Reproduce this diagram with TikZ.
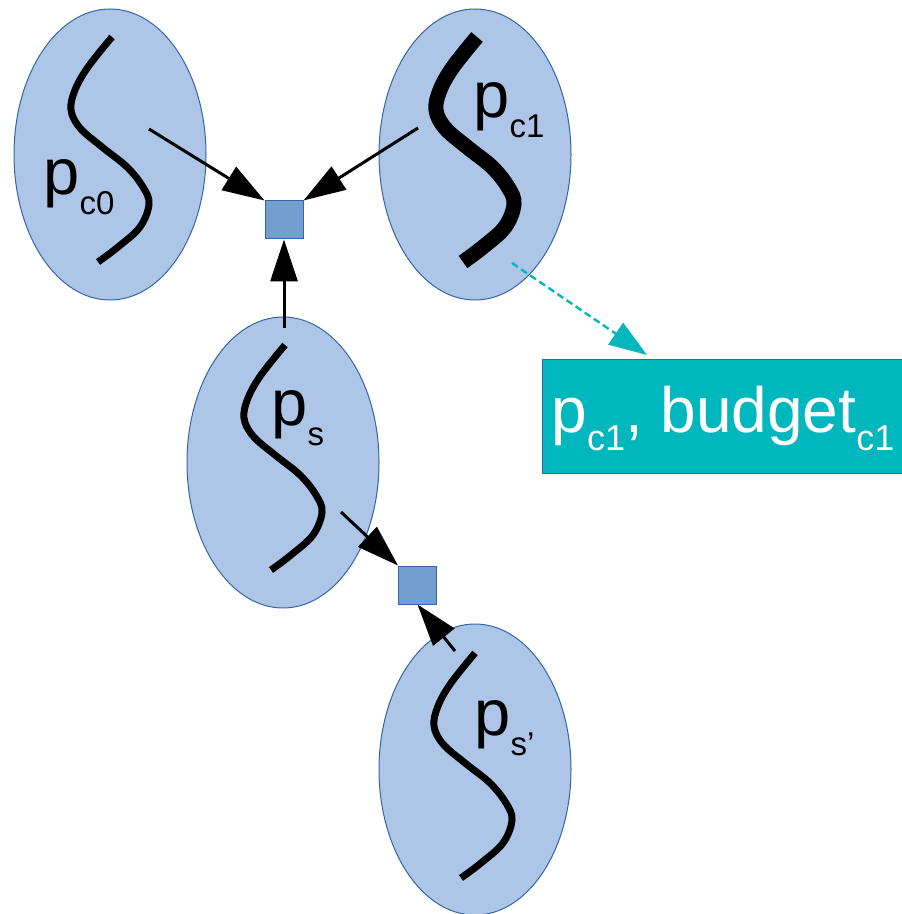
\documentclass[tikz,border=0pt]{standalone}
\usepackage{fontspec}
\setmainfont{Liberation Sans}
\usetikzlibrary{shapes.geometric,arrows.meta}
\definecolor{ellfill}{RGB}{173,197,230}
\definecolor{ellline}{RGB}{52,101,164}
\definecolor{sqfill}{RGB}{114,159,207}
\definecolor{tealbox}{RGB}{0,183,189}
\tikzset{
 blob/.style={ellipse, draw=ellline, line width=0.5pt, fill=ellfill, minimum width=96pt, minimum height=145.5pt, inner sep=0pt},
 factor/.style={rectangle, draw=ellline, line width=0.5pt, fill=sqfill, minimum size=19pt, inner sep=0pt},
 arr/.style={line width=1.5pt, -{Triangle[length=21pt,width=13.5pt]}},
 dasharr/.style={line width=1.2pt, tealbox, dash pattern=on 3.5pt off 2pt, -{Triangle[length=19pt,width=13pt]}},
 lbl/.style={anchor=base west, inner sep=0pt, font=\fontsize{32.5}{33}\selectfont},
 tealrect/.style={rectangle, draw=ellline, line width=0.5pt, fill=tealbox, minimum width=180pt, minimum height=57pt, inner sep=0pt},
 curvethin/.style={line width=3.5pt},
 curvethick/.style={line width=7.5pt},
}
\newcommand{\mysub}[1]{\raisebox{-10pt}{\fontsize{16.5}{16.5}\selectfont #1}}
\newcommand{\myboxsub}[1]{\raisebox{-9pt}{\fontsize{18}{18}\selectfont #1}}
\newcommand{\sshape}[2]{\draw[#1, shift={#2}] plot[smooth, tension=0.6] coordinates {(0,0) (-24,30) (-37,53) (-41,73) (-32,91) (-10,110) (15,130) (31,150) (37,167) (28,190) (6,210) (-14,225)};}
\begin{document}
\begin{tikzpicture}[x=0.5pt, y=-0.5pt]
\useasboundingbox (0,0) rectangle (901,914);
% ellipses
\node[blob] (c0) at (110,154.5) {};
\node[blob] (c1) at (475,154.5) {};
\node[blob] (s) at (283,462.5) {};
\node[blob] (sp) at (475,769.5) {};
% S curves
\sshape{curvethin}{(112,37)}
\sshape{curvethick}{(477,37)}
\sshape{curvethin}{(285,345)}
\sshape{curvethin}{(475,653)}
% labels
\node[lbl] (lc0) at (43,195) {p\mysub{c0}};
\node[lbl] (lc1) at (473,118) {p\mysub{c1}};
\node[lbl] (ls) at (271,425) {p\mysub{s}};
\node[lbl] (lsp) at (474,735) {p\mysub{s’}};
% factor squares
\node[factor] (f1) at (284,220) {};
\node[factor] (f2) at (417.5,585) {};
% box
\node[tealrect] (box) at (722,416) {};
\node[lbl, white, font=\fontsize{32}{32}\selectfont] (boxlbl) at (551,432) {p\myboxsub{c1}, budget\myboxsub{c1}};
% connector endpoints
\coordinate (c0out) at (149,129);
\coordinate (c1out) at (418,128);
\coordinate (sup) at (284,328);
\coordinate (sout) at (341,512);
\coordinate (spout) at (455,651);
\coordinate (c1tail) at (512,263);
\coordinate (boxtip) at (647,355);
% connectors
\draw[arr] (c0out) -- (f1.north west);
\draw[arr] (c1out) -- (f1.north east);
\draw[arr] (sup) -- (f1.south);
\draw[arr] (sout) -- (f2.north west);
\draw[arr] (spout) -- (f2.south);
\draw[dasharr] (c1tail) -- (boxtip);
\end{tikzpicture}
\end{document}
